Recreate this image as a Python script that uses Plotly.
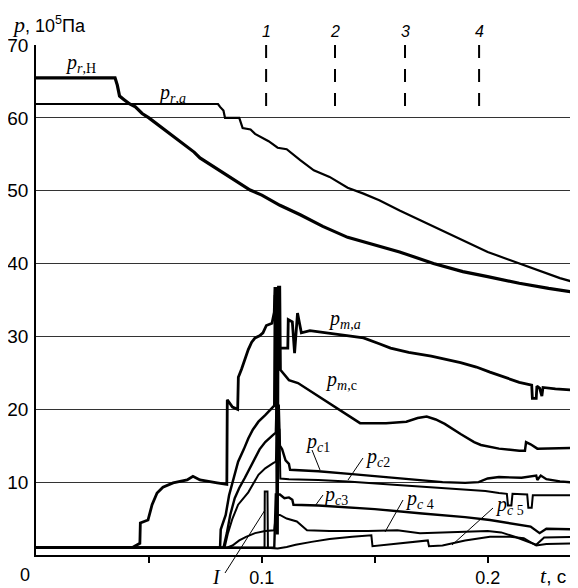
import plotly.graph_objects as go

# ---------------- data (t in s, p in 10^5 Pa) ----------------
t_rH = [0, 0.035, 0.036, 0.037, 0.039, 0.0415, 0.044, 0.047, 0.050, 0.055, 0.060, 0.065, 0.070, 0.0726,
        0.080, 0.087, 0.0948, 0.100, 0.108, 0.117, 0.127, 0.138, 0.152, 0.161, 0.176, 0.189, 0.200,
        0.214, 0.227, 0.240]
p_rH = [65.5, 65.5, 64.5, 63.0, 62.5, 61.9, 61.5, 60.6, 60.0, 58.8, 57.7, 56.5, 55.3, 54.5,
        53.0, 51.6, 50.1, 49.4, 48.0, 46.7, 45.1, 43.6, 42.4, 41.6, 40.0, 38.9, 38.2,
        37.3, 36.6, 36.0]

t_ra = [0, 0.0806, 0.0815, 0.083, 0.0837, 0.090, 0.0915, 0.095, 0.097, 0.100, 0.103, 0.107, 0.111,
        0.117, 0.123, 0.130, 0.138, 0.145, 0.152, 0.161, 0.170, 0.177, 0.189, 0.200, 0.207, 0.214,
        0.225, 0.232, 0.240]
p_ra = [61.9, 61.9, 61.5, 61.0, 60.0, 60.0, 58.6, 58.4, 57.8, 57.3, 56.8, 55.9, 55.7,
        54.2, 52.8, 51.9, 50.4, 49.6, 48.7, 47.3, 46.0, 44.9, 43.2, 41.6, 40.8, 40.0,
        38.8, 38.0, 37.3]

t_ma = [0, 0.0425, 0.046, 0.0462, 0.0496, 0.0505, 0.0514, 0.0536, 0.0562, 0.0607, 0.0669, 0.0695,
        0.0726, 0.0802, 0.0845, 0.0847, 0.0855, 0.0870, 0.0893, 0.0896, 0.091, 0.0925, 0.094,
        0.0955, 0.097, 0.099, 0.1005, 0.102, 0.1045, 0.1055, 0.1058, 0.1067, 0.1070, 0.1115,
        0.1117, 0.1135, 0.1145, 0.1158, 0.1175, 0.1213, 0.126, 0.135, 0.145, 0.152, 0.157, 0.165,
        0.175, 0.188, 0.195, 0.201, 0.208, 0.214, 0.2195, 0.2198, 0.2215, 0.2218, 0.223, 0.224,
        0.2245, 0.230, 0.240]
p_ma = [1.0, 1.0, 1.6, 4.4, 4.8, 6.0, 6.9, 8.5, 9.3, 9.9, 10.3, 10.8,
        10.3, 9.9, 9.7, 21.3, 21.0, 20.3, 20.0, 24.4, 25.5, 27.0, 28.2,
        29.2, 29.8, 30.1, 30.5, 31.5, 31.8, 33.3, 36.6, 36.6, 28.4, 28.4,
        32.3, 32.0, 27.7, 33.2, 30.5, 30.8, 30.6, 30.2, 29.8, 29.0, 28.4, 27.8,
        27.3, 26.4, 25.8, 25.1, 24.3, 23.7, 23.3, 21.5, 21.5, 23.2, 22.9, 21.8,
        23.0, 22.8, 22.6]

t_mc = [0, 0.0815, 0.0818, 0.084, 0.0855, 0.0875, 0.0895, 0.092, 0.094, 0.096, 0.0985, 0.1015,
        0.1045, 0.1055, 0.1058, 0.1064, 0.1066, 0.107, 0.1073, 0.108, 0.1083, 0.112, 0.116, 0.120,
        0.127, 0.1346, 0.140, 0.1435, 0.155, 0.164, 0.169, 0.173, 0.177, 0.181, 0.188, 0.194,
        0.197, 0.205, 0.214, 0.2165, 0.217, 0.219, 0.222, 0.240]
p_mc = [1.0, 1.0, 3.5, 5.5, 8.2, 10.5, 12.8, 14.5, 16.0, 17.2, 18.3, 19.2,
        20.2, 20.5, 35.5, 35.5, 3.0, 3.0, 36.8, 36.8, 25.4, 24.0, 23.6, 22.8,
        21.5, 19.9, 18.8, 18.1, 18.1, 18.3, 18.8, 19.0, 18.6, 18.0, 16.6, 15.5,
        15.1, 14.6, 14.3, 14.3, 15.5, 15.2, 14.6, 14.7]

t_c1 = [0, 0.083, 0.0845, 0.086, 0.088, 0.090, 0.0925, 0.095, 0.097, 0.099, 0.1015, 0.105, 0.1062,
        0.1065, 0.1075, 0.108, 0.109, 0.1105, 0.112, 0.1125, 0.125, 0.140, 0.155, 0.170, 0.180,
        0.190, 0.196, 0.200, 0.205, 0.215, 0.2215, 0.222, 0.2235, 0.226, 0.232, 0.240]
p_c1 = [1.0, 1.0, 3.0, 5.5, 7.8, 9.2, 10.6, 12.0, 13.3, 14.5, 15.5, 16.5, 16.8,
        20.5, 20.5, 15.0, 14.5, 13.0, 12.5, 11.7, 11.5, 11.1, 10.7, 10.3, 10.0,
        9.9, 10.0, 10.5, 10.7, 10.6, 10.9, 10.3, 10.9, 10.4, 10.1, 9.9]

t_c2 = [0, 0.0835, 0.085, 0.087, 0.0895, 0.094, 0.0985, 0.1015, 0.105, 0.1062, 0.1068, 0.1078,
        0.1082, 0.112, 0.125, 0.138, 0.160, 0.180, 0.199, 0.205, 0.2085, 0.209, 0.2105, 0.211,
        0.2175, 0.218, 0.2195, 0.220, 0.230, 0.240]
p_c2 = [1.0, 1.0, 3.0, 5.0, 6.9, 8.6, 11.0, 11.9, 12.6, 12.8, 17.2, 17.2,
        10.5, 10.4, 10.3, 10.1, 9.6, 9.2, 8.8, 8.5, 8.4, 6.8, 6.8, 8.4,
        8.3, 6.5, 6.5, 8.2, 8.2, 8.2]

t_c3 = [0, 0.1055, 0.1062, 0.108, 0.110, 0.112, 0.1135, 0.114, 0.125, 0.150, 0.171, 0.190, 0.201,
        0.212, 0.219, 0.223, 0.226, 0.240]
p_c3 = [1.0, 1.0, 8.3, 8.3, 7.8, 7.9, 7.6, 6.9, 6.8, 6.3, 5.7, 5.2, 4.8,
        4.3, 3.9, 3.0, 3.6, 3.5]

t_c4 = [0, 0.0845, 0.087, 0.090, 0.093, 0.097, 0.1015, 0.1055, 0.1062, 0.108, 0.111, 0.1155,
        0.120, 0.130, 0.147, 0.160, 0.170, 0.190, 0.200, 0.206, 0.212, 0.2215, 0.225, 0.240]
p_c4 = [1.0, 1.0, 1.3, 2.0, 2.5, 3.0, 3.3, 3.4, 5.5, 5.5, 5.0, 4.6,
        3.4, 3.3, 3.3, 3.4, 3.0, 3.2, 3.3, 3.1, 2.5, 1.4, 2.4, 2.5]

t_c5 = [0, 0.1012, 0.1013, 0.1025, 0.1027, 0.107, 0.111, 0.115, 0.122, 0.130, 0.140, 0.1485,
        0.149, 0.160, 0.1735, 0.174, 0.180, 0.190, 0.201, 0.210, 0.216, 0.2215, 0.226, 0.240]
p_c5 = [1.0, 1.0, 8.7, 8.7, 1.0, 0.9, 1.1, 1.4, 1.8, 2.2, 2.5, 2.7,
        1.2, 1.6, 2.0, 1.2, 1.3, 2.0, 2.5, 2.5, 2.3, 1.3, 1.5, 1.6]

moment_t = [0.1019, 0.1324, 0.1634, 0.1962]
moment_labels = ["1", "2", "3", "4"]
moment_p = [70, 61]

x_tickvals = [0.05, 0.1, 0.15, 0.2]
x_ticktext = ["", "0.1", "", "0.2"]
y_tickvals = [10, 20, 30, 40, 50, 60, 70]

# ---------------- layout geometry ----------------
OFF = 8                       # page body margin of the html page
W, H = 570, 580
ML, MR, MT, MB = 28, 0, 37, 33
XMAX, YMAX = 0.24, 70.0
PW, PH = W - ML - MR, H - MT - MB

def px2x(px):  # screen pixel x -> paper x
    return (px - OFF - ML) / PW

def px2y(py):  # screen pixel y -> paper y
    return (H - MB - (py - OFF)) / PH

SERIF = "Liberation Serif"
SANS = "Liberation Sans"

fig = go.Figure()

series = [
    (t_rH, p_rH, 3.2), (t_ra, p_ra, 2.2), (t_ma, p_ma, 2.8), (t_mc, p_mc, 2.5),
    (t_c1, p_c1, 2.4), (t_c2, p_c2, 2.0), (t_c3, p_c3, 2.4), (t_c4, p_c4, 2.0), (t_c5, p_c5, 2.0),
]
for tt, pp, w in series:
    fig.add_trace(go.Scatter(x=tt, y=pp, mode="lines", line=dict(color="black", width=w),
                             showlegend=False, hoverinfo="skip"))

for mt in moment_t:
    fig.add_trace(go.Scatter(x=[mt, mt], y=moment_p, mode="lines",
                             line=dict(color="black", width=2, dash="13px,11px"),
                             showlegend=False, hoverinfo="skip"))

ann = []
def label(xp, ypix, text, size=20, anchor="left", family=SERIF):
    ann.append(dict(x=px2x(xp), y=px2y(ypix), xref="paper", yref="paper", text=text, showarrow=False,
                    xanchor=anchor, yanchor="middle",
                    font=dict(family=family, size=size, color="black")))

label(63, 64, "<i>p</i><sub><i>r</i>,Н</sub>")
label(156, 93, "<i>p</i><sub><i>r</i>,<i>a</i></sub>")
label(326, 319, "<i>p</i><sub><i>m</i>,<i>a</i></sub>")
label(323, 380, "<i>p</i><sub><i>m</i>,с</sub>")
label(303, 442, "<i>p</i><sub><i>c</i>1</sub>")
label(363, 457, "<i>p</i><sub><i>c</i>2</sub>")
label(321, 495, "<i>p</i><sub><i>c</i>3</sub>")
label(403, 499, "<i>p</i><sub><i>c</i> 4</sub>")
label(493, 505, "<i>p</i><sub><i>c</i> 5</sub>")
label(217, 577, "<i>I</i>", size=20, anchor="center")

for mt, ml in zip(moment_t, moment_labels):
    ann.append(dict(x=mt, y=px2y(31), xref="x", yref="paper", text="<i>" + ml + "</i>", showarrow=False,
                    xanchor="center", yanchor="middle", font=dict(family=SANS, size=16, color="black")))

# axis titles and the lone "0"
label(10, 25, "<span style='font-family:Liberation Serif;font-style:italic;font-size:22px'>p</span>, 10<sup>5</sup>Па",
      size=18, family=SANS)
label(538, 575, "<span style='font-family:Liberation Serif;font-style:italic;font-size:22px'>t</span>, с",
      size=19, family=SANS)
label(25, 575, "0", size=18, anchor="center", family=SANS)

leaders = [((312, 450), (320, 470)), ((363, 458), (348, 480)), ((323, 495), (315, 506)),
           ((403, 500), (385, 532)), ((493, 508), (452, 545)), ((225, 573), (265, 510))]
shapes = []
for (x0, y0), (x1, y1) in leaders:
    shapes.append(dict(type="line", xref="paper", yref="paper", x0=px2x(x0), y0=px2y(y0),
                       x1=px2x(x1), y1=px2y(y1), line=dict(color="black", width=1)))

fig.update_layout(
    width=W, height=H, margin=dict(l=ML, r=MR, t=MT, b=MB, autoexpand=False),
    plot_bgcolor="white", paper_bgcolor="white",
    annotations=ann, shapes=shapes,
    xaxis=dict(range=[0, XMAX], showline=True, linecolor="black", linewidth=1.5, mirror=False,
               ticks="outside", ticklen=6, tickwidth=1.5, tickcolor="black", automargin=False,
               tickvals=x_tickvals, ticktext=x_ticktext, showgrid=False, zeroline=False,
               tickfont=dict(family=SANS, size=18, color="black"), fixedrange=True),
    yaxis=dict(range=[0, YMAX], showline=True, linecolor="black", linewidth=1.5, automargin=False,
               ticks="", tickvals=y_tickvals, showgrid=True, gridcolor="#333333", gridwidth=1,
               zeroline=False, tickfont=dict(family=SANS, size=19, color="black"), fixedrange=True,
               ticklabelstandoff=2),
)

fig.write_html("out.html")
